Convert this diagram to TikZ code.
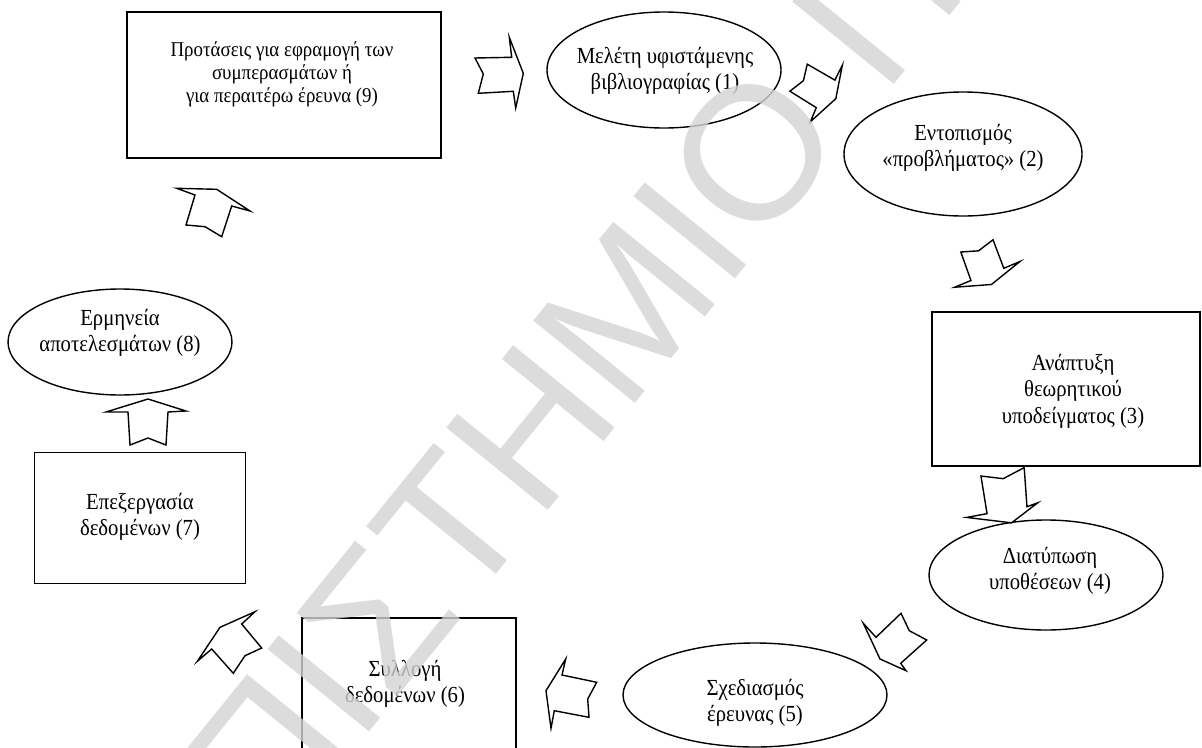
\documentclass[tikz,border=0pt]{standalone}
\usepackage{fontspec}
\setmainfont{Liberation Serif}
\newfontfamily\markfont{Liberation Sans}
\newfontfamily\narrowserif[FakeStretch=0.9]{Liberation Serif}
\usetikzlibrary{shapes.geometric}
\tikzset{
  shapeline/.style={draw=black, line width=1.4pt},
  oval/.style={shapeline, ellipse, inner sep=0pt},
  framebox/.style={shapeline, rectangle, inner sep=0pt},
  caption/.style={font=\narrowserif\fontsize{23}{26.5}\selectfont, align=center, inner sep=0pt},
  smallcaption/.style={font=\narrowserif\fontsize{21}{23}\selectfont, align=center, inner sep=0pt},
  blockarrow/.style={draw=black, line width=1.4pt, line join=miter, fill=white},
  watermark/.style={font=\markfont\fontsize{190}{190}\selectfont, text=black!17,
    text opacity=0.8, rotate=51, inner sep=0pt, anchor=base west}
}
\begin{document}
\begin{tikzpicture}[x=1pt,y=-1pt]
\useasboundingbox (0,0) rectangle (1202,747);
\clip (0,0) rectangle (1202,747);
\fill[white] (0,0) rectangle (1202,747);

% stages of the research cycle
\node[framebox, minimum width=314pt, minimum height=146pt] (n9) at (284,85) {};
\node[smallcaption] (t9) at (282,74) {Προτάσεις για εφραμογή των\\συμπερασμάτων ή\\για περαιτέρω έρευνα (9)};

\node[oval, minimum width=234pt, minimum height=116pt] (n1) at (664,70) {};
\node[caption] (t1) at (665,71) {Μελέτη υφιστάμενης\\βιβλιογραφίας (1)};

\node[oval, minimum width=238pt, minimum height=124pt] (n2) at (963,154) {};
\node[caption] (t2) at (963,148) {Εντοπισμός\\«προβλήματος» (2)};

\node[framebox, minimum width=268pt, minimum height=154pt] (n3) at (1066,389) {};
\node[caption] (t3) at (1073,391) {Ανάπτυξη\\θεωρητικού\\υποδείγματος (3)};

\node[oval, minimum width=234pt, minimum height=110pt] (n4) at (1046,575) {};
\node[caption] (t4) at (1050,571) {Διατύπωση\\υποθέσεων (4)};

\node[oval, minimum width=264pt, minimum height=104pt] (n5) at (755,695) {};
\node[caption] (t5) at (755,703) {Σχεδιασμός\\έρευνας (5)};

\node[framebox, minimum width=214pt, minimum height=200pt] (n6) at (409,718) {};
\node[caption] (t6) at (405,684) {Συλλογή\\δεδομένων (6)};

\node[framebox, minimum width=211pt, minimum height=131pt] (n7) at (140,518) {};
\node[caption] (t7) at (140,517) {Επεξεργασία\\δεδομένων (7)};

\node[oval, minimum width=224pt, minimum height=106pt] (n8) at (120,342) {};
\node[caption] (t8) at (120,333) {Ερμηνεία\\αποτελεσμάτων (8)};

% notched block arrows between the stages
\draw[blockarrow, shift={(0,4)}] (475,54) -- (511.7,53.3) -- (509.3,33.3) -- (523.3,69.3) -- (515.7,104)
  -- (513.3,87.3) -- (478.3,89.3) -- (483.3,70) -- cycle;
\begin{scope}[shift={(816,93)}, scale=0.9, shift={(-849,-97)}]
\draw[blockarrow] (839.3,65) -- (870,82.7) -- (878.3,66) -- (871,103.3) -- (842.7,129)
  -- (849.3,113.3) -- (820,95) -- (835,83.3) -- cycle;
\end{scope}
\begin{scope}[shift={(987.5,263.5)}, scale=0.92, shift={(-994,-266.5)}]
\draw[blockarrow] (965,254) -- (984.3,252.7) -- (1000,240.7) -- (1011.7,271.7) -- (1029.3,264.3)
  -- (998.3,289.3) -- (958.3,292.3) -- (976,285) -- cycle;
\end{scope}
\begin{scope}[shift={(1002,495)}, scale=1.15, shift={(-1009,-486.5)}]
\draw[blockarrow] (990.7,470) -- (1010,472.3) -- (1028.3,462.7) -- (1030.7,496.7) -- (1040,493.3)
  -- (1017.3,510.7) -- (978.3,506) -- (996,502.7) -- cycle;
\end{scope}
\draw[blockarrow] (901,613.3) -- (909.3,630.7) -- (926.7,640) -- (900.7,663.3) -- (906,670.7)
  -- (880,659) -- (863.3,623.3) -- (876,637.3) -- cycle;
\draw[blockarrow, shift={(0,9)}] (565.7,650) -- (562,666) -- (596.7,673.3) -- (587.7,690) -- (589,708.3)
  -- (554.3,701.7) -- (551,719.3) -- (546,681.7) -- cycle;
\draw[blockarrow, shift={(0,-6)}] (220,633.3) -- (255,617.7) -- (241.7,630) -- (261.7,654) -- (245,661.7)
  -- (233.3,679.3) -- (211.7,655) -- (197.3,667.3) -- cycle;
\draw[blockarrow] (148,399) -- (186,411) -- (168,412) -- (166,445) -- (148,438)
  -- (130,445) -- (128,412) -- (106,412) -- cycle;
\draw[blockarrow] (216.7,189.3) -- (250,211) -- (231.7,206) -- (221.7,236.7) -- (205,226.7)
  -- (186,225) -- (195,195) -- (176.7,188.3) -- cycle;

% diagonal watermark over the drawing
\node[watermark] (mark) at (-60,1262) {ΠΑΝΕΠΙΣΤΗΜΙΟ ΠΕ};
\end{tikzpicture}
\end{document}
